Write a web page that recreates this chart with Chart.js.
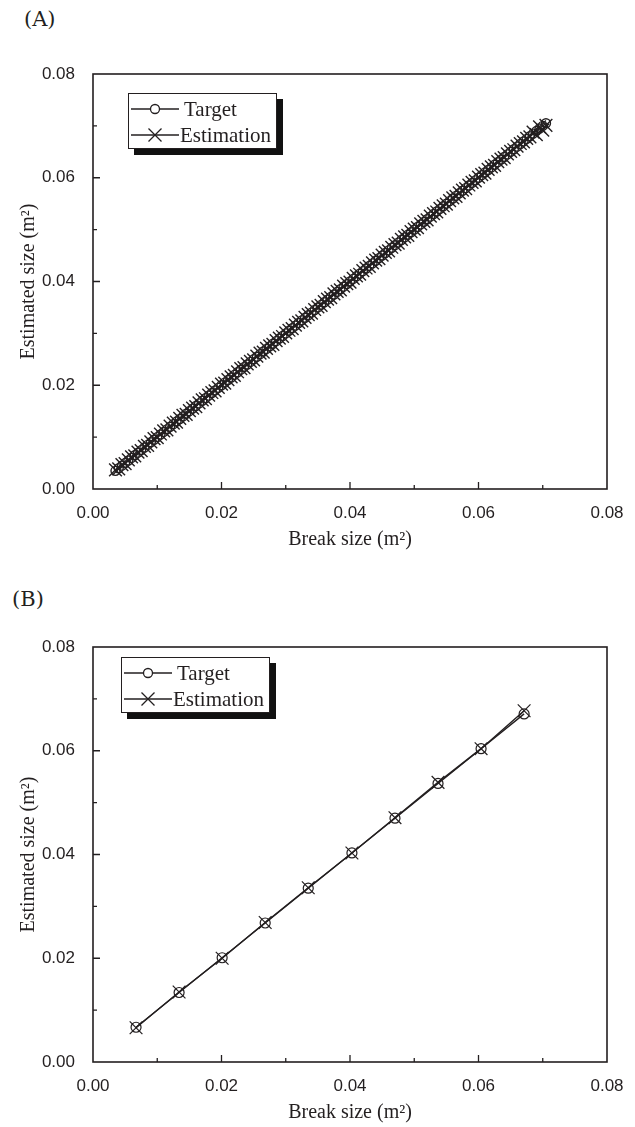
<!DOCTYPE html>
<html>
<head>
<meta charset="utf-8">
<script src="https://cdn.jsdelivr.net/npm/chart.js@4.4.1/dist/chart.umd.min.js"></script>
<style>
  html, body { margin: 0; padding: 0; background: #fff; overflow: hidden; }
  #page { position: relative; width: 635px; height: 1127px; overflow: hidden; }
  .panel { position: absolute; left: 0; width: 635px; height: 560px; }
  .tag { position: absolute; font-family: "DejaVu Serif", serif; font-size: 21px; color: #231f20; }
  .legend {
    position: absolute; width: 147px; height: 54px; background: #fff;
    border: 1px solid #231f20; box-shadow: 6px 6px 0 #111;
    font-family: "Liberation Serif", serif; font-size: 21px; color: #231f20;
  }
  .legend .row { position: absolute; left: 0; height: 28px; width: 147px; }
  .legend svg { position: absolute; left: 1px; top: 0; }
  .legend span { position: absolute; top: 1px; line-height: 26px; }
</style>
</head>
<body>
<div id="page">
  <div class="tag" style="left:24px; top:7px;">(A)</div>
  <div class="panel" style="top:0px;"><canvas id="chart-a" width="635" height="560"></canvas></div>
  <div class="tag" style="left:12px; top:587px;">(B)</div>
  <div class="panel" style="top:573px;"><canvas id="chart-b" width="635" height="560"></canvas></div>

  <div class="legend" style="left:128px; top:93px;">
    <div class="row" style="top:1px;">
      <svg width="50" height="28"><line x1="1" y1="14" x2="49" y2="14" stroke="#231f20" stroke-width="1.3"/><circle cx="25" cy="14" r="4.5" fill="#fff" stroke="#231f20" stroke-width="1.3"/></svg>
      <span style="left:55px;">Target</span>
    </div>
    <div class="row" style="top:27px;">
      <svg width="50" height="28"><line x1="1" y1="14" x2="49" y2="14" stroke="#231f20" stroke-width="1.3"/><path d="M18.5 7.5 L31.5 20.5 M31.5 7.5 L18.5 20.5" stroke="#231f20" stroke-width="1.3"/></svg>
      <span style="left:51px;">Estimation</span>
    </div>
  </div>

  <div class="legend" style="left:121px; top:657px;">
    <div class="row" style="top:1px;">
      <svg width="50" height="28"><line x1="1" y1="14" x2="49" y2="14" stroke="#231f20" stroke-width="1.3"/><circle cx="25" cy="14" r="4.5" fill="#fff" stroke="#231f20" stroke-width="1.3"/></svg>
      <span style="left:55px;">Target</span>
    </div>
    <div class="row" style="top:27px;">
      <svg width="50" height="28"><line x1="1" y1="14" x2="49" y2="14" stroke="#231f20" stroke-width="1.3"/><path d="M18.5 7.5 L31.5 20.5 M31.5 7.5 L18.5 20.5" stroke="#231f20" stroke-width="1.3"/></svg>
      <span style="left:51px;">Estimation</span>
    </div>
  </div>
</div>

<script>
// (A) break sizes, target = break size
const breakA = [
  0.0035, 0.0040, 0.0045, 0.0050, 0.0055, 0.0060, 0.0065, 0.0070, 0.0075, 0.0080,
  0.0085, 0.0090, 0.0095, 0.0100, 0.0105, 0.0110, 0.0115, 0.0120, 0.0125, 0.0130,
  0.0135, 0.0140, 0.0145, 0.0150, 0.0155, 0.0160, 0.0165, 0.0170, 0.0175, 0.0180,
  0.0185, 0.0190, 0.0195, 0.0200, 0.0205, 0.0210, 0.0215, 0.0220, 0.0225, 0.0230,
  0.0235, 0.0240, 0.0245, 0.0250, 0.0255, 0.0260, 0.0265, 0.0270, 0.0275, 0.0280,
  0.0285, 0.0290, 0.0295, 0.0300, 0.0305, 0.0310, 0.0315, 0.0320, 0.0325, 0.0330,
  0.0335, 0.0340, 0.0345, 0.0350, 0.0355, 0.0360, 0.0365, 0.0370, 0.0375, 0.0380,
  0.0385, 0.0390, 0.0395, 0.0400, 0.0405, 0.0410, 0.0415, 0.0420, 0.0425, 0.0430,
  0.0435, 0.0440, 0.0445, 0.0450, 0.0455, 0.0460, 0.0465, 0.0470, 0.0475, 0.0480,
  0.0485, 0.0490, 0.0495, 0.0500, 0.0505, 0.0510, 0.0515, 0.0520, 0.0525, 0.0530,
  0.0535, 0.0540, 0.0545, 0.0550, 0.0555, 0.0560, 0.0565, 0.0570, 0.0575, 0.0580,
  0.0585, 0.0590, 0.0595, 0.0600, 0.0605, 0.0610, 0.0615, 0.0620, 0.0625, 0.0630,
  0.0635, 0.0640, 0.0645, 0.0650, 0.0655, 0.0660, 0.0665, 0.0670, 0.0675, 0.0680,
  0.0685, 0.0690, 0.0695, 0.0700, 0.0705
]
const estA = [
  0.0037, 0.0039, 0.0047, 0.0049, 0.0056, 0.0062, 0.0064, 0.0071, 0.0074, 0.0082,
  0.0084, 0.0091, 0.0097, 0.0099, 0.0106, 0.0112, 0.0114, 0.0121, 0.0127, 0.0129,
  0.0136, 0.0142, 0.0144, 0.0151, 0.0156, 0.0159, 0.0166, 0.0172, 0.0174, 0.0181,
  0.0186, 0.0189, 0.0196, 0.0202, 0.0204, 0.0211, 0.0216, 0.0219, 0.0226, 0.0232,
  0.0234, 0.0241, 0.0246, 0.0249, 0.0256, 0.0262, 0.0264, 0.0271, 0.0276, 0.0279,
  0.0286, 0.0291, 0.0294, 0.0301, 0.0306, 0.0309, 0.0316, 0.0321, 0.0324, 0.0331,
  0.0336, 0.0339, 0.0346, 0.0351, 0.0354, 0.0361, 0.0366, 0.0369, 0.0376, 0.0381,
  0.0384, 0.0391, 0.0396, 0.0399, 0.0406, 0.0411, 0.0414, 0.0421, 0.0426, 0.0429,
  0.0436, 0.0441, 0.0444, 0.0451, 0.0456, 0.0459, 0.0466, 0.0471, 0.0474, 0.0481,
  0.0486, 0.0489, 0.0496, 0.0501, 0.0504, 0.0511, 0.0516, 0.0519, 0.0526, 0.0531,
  0.0534, 0.0541, 0.0546, 0.0549, 0.0556, 0.0561, 0.0564, 0.0571, 0.0576, 0.0579,
  0.0586, 0.0591, 0.0594, 0.0601, 0.0606, 0.0609, 0.0616, 0.0621, 0.0624, 0.0631,
  0.0636, 0.0639, 0.0646, 0.0651, 0.0654, 0.0661, 0.0666, 0.0669, 0.0676, 0.0679,
  0.0688, 0.0683, 0.0698, 0.0692, 0.0701
]

// (B)
const breakB = [0.0067, 0.0134, 0.0201, 0.0268, 0.0335, 0.0403, 0.0470, 0.0537, 0.0604, 0.0671]
const estB = [0.0066, 0.0135, 0.0200, 0.0269, 0.0336, 0.0403, 0.0471, 0.0539, 0.0604, 0.0677]

const axisTicks = [0.00, 0.02, 0.04, 0.06, 0.08]
const xTitle = 'Break size (m²)'
const yTitle = 'Estimated size (m²)'

const ink = '#231f20'

// frame + inward ticks (major every 0.02, minor every 0.01)
const framePlugin = {
    id: 'frame',
    afterDraw(chart) {
        const ctx = chart.ctx
        const a = chart.chartArea
        const xs = chart.scales.x
        const ys = chart.scales.y
        ctx.save()
        ctx.strokeStyle = ink
        ctx.lineWidth = 1.6
        ctx.strokeRect(a.left, a.top, a.right - a.left, a.bottom - a.top)
        ctx.lineWidth = 1.3
        ctx.beginPath()
        for (let i = 1; i < 8; i++) {
            const v = i / 100
            const len = i % 2 === 0 ? 7 : 4
            const px = xs.getPixelForValue(v)
            ctx.moveTo(px, a.bottom)
            ctx.lineTo(px, a.bottom - len)
            const py = ys.getPixelForValue(v)
            ctx.moveTo(a.left, py)
            ctx.lineTo(a.left + len, py)
        }
        ctx.stroke()
        ctx.restore()
    }
}

function makeChart(canvas, xs, targetY, estY, circleR, crossR, markW) {
    return new Chart(canvas.getContext('2d'), {
        type: 'scatter',
        data: {
            datasets: [
                {
                    label: 'Target',
                    data: xs.map((x, i) => ({ x: x, y: targetY[i] })),
                    showLine: true,
                    borderColor: ink,
                    borderWidth: 1.4,
                    pointStyle: 'circle',
                    pointRadius: circleR,
                    pointBorderWidth: markW,
                    pointBorderColor: ink,
                    pointBackgroundColor: 'rgba(0,0,0,0)',
                    order: 2
                },
                {
                    label: 'Estimation',
                    data: xs.map((x, i) => ({ x: x, y: estY[i] })),
                    showLine: true,
                    borderColor: ink,
                    borderWidth: 1.4,
                    pointStyle: 'crossRot',
                    pointRadius: crossR,
                    pointBorderWidth: markW,
                    pointBorderColor: ink,
                    order: 1
                }
            ]
        },
        options: {
            responsive: false,
            animation: false,
            layout: { padding: { top: 74, right: 28, left: 0, bottom: 0 } },
            plugins: { legend: { display: false }, tooltip: { enabled: false } },
            scales: {
                x: {
                    type: 'linear', min: 0, max: 0.08,
                    afterBuildTicks: s => { s.ticks = axisTicks.map(v => ({ value: v })) },
                    afterFit: s => { s.height = 71 },
                    grid: { display: false },
                    border: { display: false },
                    ticks: {
                        color: ink, padding: 6,
                        font: { family: 'Liberation Sans', size: 17 },
                        callback: v => v.toFixed(2)
                    },
                    title: {
                        display: true, text: xTitle, color: ink,
                        font: { family: 'Liberation Serif', size: 20 },
                        padding: { top: 8, bottom: 8 }
                    }
                },
                y: {
                    type: 'linear', min: 0, max: 0.08,
                    afterBuildTicks: s => { s.ticks = axisTicks.map(v => ({ value: v })) },
                    afterFit: s => { s.width = 93 },
                    grid: { display: false },
                    border: { display: false },
                    ticks: {
                        color: ink, padding: 10,
                        font: { family: 'Liberation Sans', size: 17 },
                        callback: v => v.toFixed(2)
                    },
                    title: {
                        display: true, text: yTitle, color: ink,
                        font: { family: 'Liberation Serif', size: 20 },
                        padding: { top: 17, bottom: 16 }
                    }
                }
            }
        },
        plugins: [framePlugin]
    })
}

makeChart(document.querySelector('#chart-a'), breakA, breakA, estA, 4.5, 9, 1.4)
makeChart(document.querySelector('#chart-b'), breakB, breakB, estB, 5, 9, 1.2)
</script>
</body>
</html>
